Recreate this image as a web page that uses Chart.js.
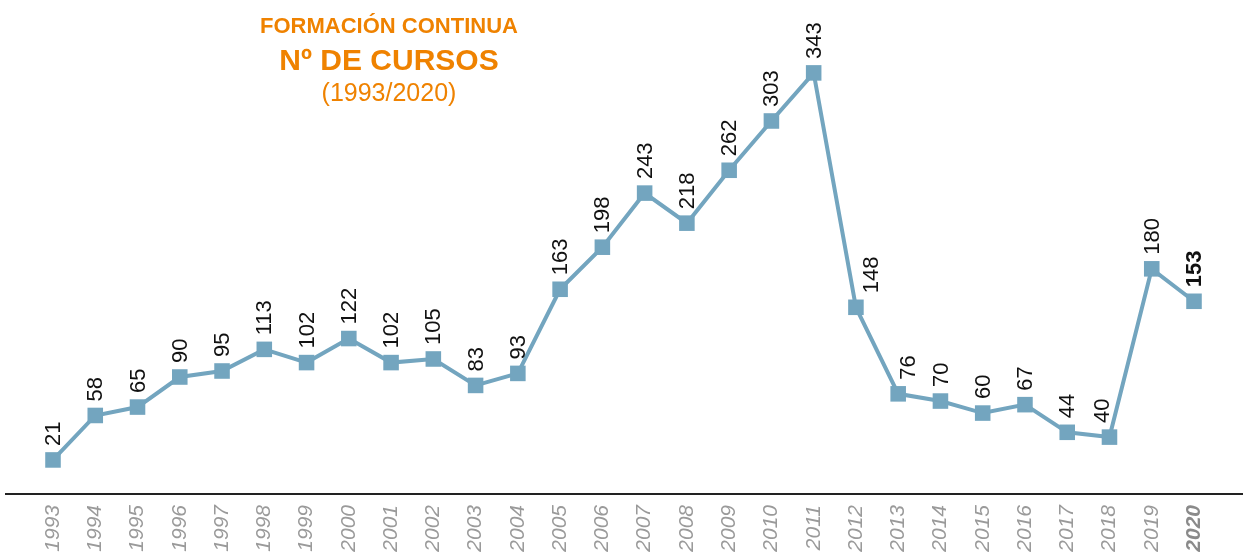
<!DOCTYPE html>
<html>
<head>
<meta charset="utf-8">
<script src="https://cdn.jsdelivr.net/npm/chart.js@4/dist/chart.umd.min.js"></script>
<style>
	html, body { margin: 0; padding: 0; background: #fff; }
	#wrap { position: relative; width: 1243px; height: 556px; overflow: hidden; }
	#chart { position: absolute; left: 0; top: 0; }
	.title { position: absolute; left: 189px; width: 400px; text-align: center; color: #EF8200; font-family: 'Liberation Sans', Arial, sans-serif; white-space: nowrap; }
</style>
</head>
<body>
<div id="wrap">
	<canvas id="chart" width="1243" height="556"></canvas>
	<div class="title" style="top: 15px; font-size: 22px; line-height: 22px; font-weight: bold;">FORMACIÓN CONTINUA</div>
	<div class="title" style="top: 45px; font-size: 30px; line-height: 30px; font-weight: bold;">Nº DE CURSOS</div>
	<div class="title" style="top: 80px; font-size: 25px; line-height: 25px;">(1993/2020)</div>
</div>
<script>
const years = ['1993', '1994', '1995', '1996', '1997', '1998', '1999', '2000', '2001', '2002',
	'2003', '2004', '2005', '2006', '2007', '2008', '2009', '2010', '2011', '2012',
	'2013', '2014', '2015', '2016', '2017', '2018', '2019', '2020'];
const cursos = [21, 58, 65, 90, 95, 113, 102, 122, 102, 105,
	83, 93, 163, 198, 243, 218, 262, 303, 343, 148,
	76, 70, 60, 67, 44, 40, 180, 153];

const lineColor = '#73A5BF';
const lastIdx = years.length - 1;

// labels sideways above each point, a few nudged off the line
const pointLabels = {
	id: 'pointLabels',
	afterDatasetsDraw(chart) {
		const { ctx } = chart;
		const meta = chart.getDatasetMeta(0);
		const nudge = { 19: 15, 20: 10, 25: -8 };
		ctx.save();
		ctx.fillStyle = '#111';
		ctx.textAlign = 'left';
		ctx.textBaseline = 'middle';
		meta.data.forEach((pt, i) => {
			ctx.font = (i === lastIdx ? 'bold ' : '') + '22px "Liberation Sans", Arial, sans-serif';
			ctx.save();
			ctx.translate(pt.x + (nudge[i] || 0), pt.y - 14);
			ctx.rotate(-Math.PI / 2);
			ctx.fillText(String(cursos[i]), 0, 1);
			ctx.restore();
		});
		ctx.restore();
	}
};

const baseLine = {
	id: 'baseLine',
	afterDraw(chart) {
		const { ctx, chartArea } = chart;
		ctx.save();
		ctx.strokeStyle = '#222';
		ctx.lineWidth = 2;
		ctx.beginPath();
		ctx.moveTo(5, chartArea.bottom + 1);
		ctx.lineTo(chart.width, chartArea.bottom + 1);
		ctx.stroke();
		ctx.restore();
	}
};

new Chart(document.getElementById('chart').getContext('2d'), {
	type: 'line',
	data: {
		labels: years,
		datasets: [{
			data: cursos,
			borderColor: lineColor,
			backgroundColor: lineColor,
			borderWidth: 4,
			pointStyle: 'rect',
			pointRadius: 11,
			pointBorderWidth: 0,
			pointBackgroundColor: lineColor,
			fill: false,
			tension: 0,
			clip: false,
		}],
	},
	options: {
		responsive: false,
		animation: false,
		layout: { padding: { top: 4, left: 53, right: 49, bottom: 0 } },
		plugins: { legend: { display: false }, tooltip: { enabled: false } },
		scales: {
			x: {
				offset: false,
				grid: { display: false, drawTicks: false },
				border: { display: false },
				afterFit(scale) { scale.height = 63; },
				ticks: {
					autoSkip: false,
					minRotation: 90,
					maxRotation: 90,
					padding: 12,
					color: (c) => c.index === lastIdx ? '#8a8a8a' : '#9a9a9a',
					font: (c) => ({
						family: '"Liberation Sans", Arial, sans-serif',
						size: 21,
						style: 'italic',
						weight: c.index === lastIdx ? 'bold' : 'normal',
					}),
				},
			},
			y: {
				display: false,
				min: -6.5,
				max: 394.5,
			},
		},
	},
	plugins: [pointLabels, baseLine],
});
</script>
</body>
</html>
